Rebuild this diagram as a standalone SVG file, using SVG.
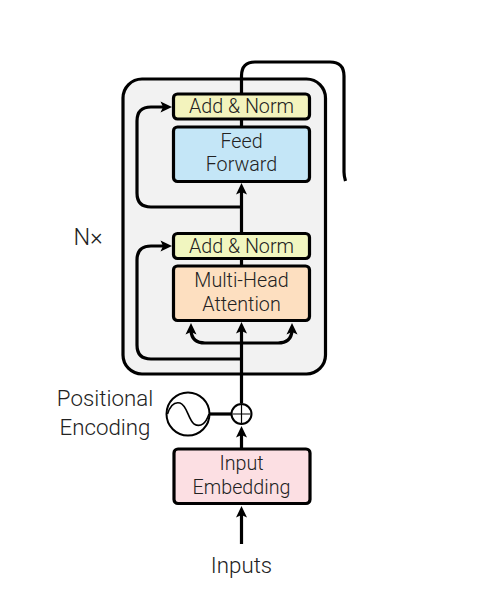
<svg xmlns="http://www.w3.org/2000/svg" width="486" height="601" viewBox="0 0 486 601">
<style>
.b{stroke:#000;stroke-width:3.2}
.l{fill:none;stroke:#000;stroke-width:3.2}
text{font-family:Roboto,"Liberation Sans",sans-serif;font-weight:300;font-size:19.7px;fill:#222;text-anchor:middle}
.w{font-size:22.300px}
.h{fill:#000}
</style>
<defs>
<path id="au" class="h" d="M0 0L5.500 11.500L0 9L-5.500 11.500Z"/>
<path id="ar" class="h" d="M0 0L-11.500 5.500L-9 0L-11.500 -5.500Z"/>
</defs>
<rect width="486" height="601" fill="#fff"/>
<g id="encoder-stack"><rect x="123" y="79" width="202.500" height="295" rx="19" fill="#f2f2f2" class="b"/></g>
<g id="connectors">
<path class="l" d="M241.500 93V76Q241.500 62 255 62H330Q344 62 344 76V172Q344 176 345.500 181"/>
<path class="l" d="M241.500 119V127"/>
<path class="l" d="M241.500 258V266"/>
<path class="l" d="M241.500 233V192"/>
<path class="l" d="M241.500 207H151Q137 207 137 193V121Q137 107 151 107H165"/>
<use href="#ar" x="172" y="107"/>
<use href="#au" x="241.500" y="183"/>
<path class="l" d="M241.500 403V330"/>
<use href="#au" x="241.500" y="322"/>
<path class="l" d="M241.500 359H151Q137 359 137 345V260Q137 246 151 246H165"/>
<use href="#ar" x="172" y="246"/>
<path class="l" d="M191 331Q192 343 205 343H278Q291 343 292 331"/>
<use href="#au" x="191" y="323"/>
<use href="#au" x="292" y="323"/>
<path class="l" d="M210 414H231"/>
<path class="l" d="M241.500 449V435"/>
<use href="#au" x="241.500" y="426"/>
<path class="l" d="M241.500 544V514"/>
<use href="#au" x="241.500" y="506"/>
</g>
<g id="add-norm-2"><rect x="173.500" y="94" width="136" height="25" rx="4" fill="#f3f3bd" class="b"/><text x="241.500" y="113">Add &amp; Norm</text></g>
<g id="feed-forward"><rect x="173.500" y="127" width="136" height="54.500" rx="4" fill="#c4e6f7" class="b"/><text x="241.500" y="148">Feed</text><text x="241.500" y="171">Forward</text></g>
<g id="add-norm-1"><rect x="173.500" y="233.500" width="136" height="25" rx="4" fill="#f1f6c0" class="b"/><text x="241.500" y="252.500">Add &amp; Norm</text></g>
<g id="multi-head-attention"><rect x="173.500" y="266" width="136" height="54.500" rx="4" fill="#fddfc0" class="b"/><text x="241.500" y="287">Multi-Head</text><text x="241.500" y="311">Attention</text></g>
<g id="input-embedding"><rect x="174" y="449" width="136" height="54.500" rx="4" fill="#fcdfe3" class="b"/><text x="241.500" y="470">Input</text><text x="241.500" y="494">Embedding</text></g>
<g id="add"><circle cx="241.500" cy="414" r="10" fill="none" stroke="#000" stroke-width="2"/><path d="M241.500 405V423M232.500 414H250.500" stroke="#000" stroke-width="1.200" fill="none"/></g>
<g id="positional-encoding"><circle cx="188" cy="414" r="21.500" fill="#fff" stroke="#000" stroke-width="2"/><path d="M167.500 414C171 403 176 402 180 403C187 405 188 419 194 424C201 428 206 423 209 414" fill="none" stroke="#000" stroke-width="1.600"/>
<text class="w" x="105" y="406">Positional</text><text class="w" x="105" y="435">Encoding</text></g>
<g id="nx"><text x="88" y="245" style="font-size:23.500px">N×</text></g>
<g id="inputs"><text class="w" x="241.500" y="573">Inputs</text></g>
</svg>
